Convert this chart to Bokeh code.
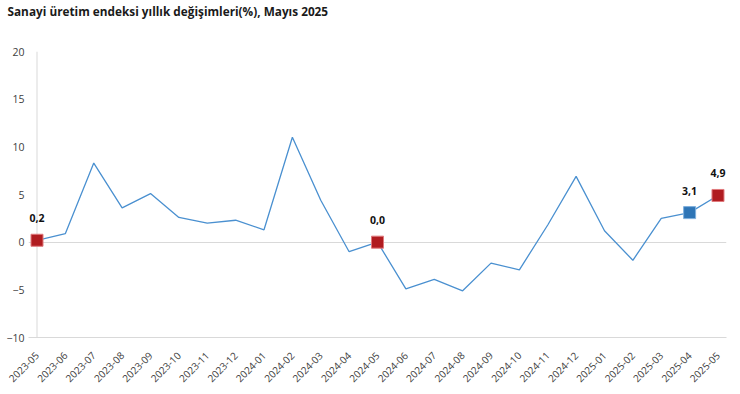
from bokeh.plotting import figure
from bokeh.models import Range1d, FixedTicker, Span, ColumnDataSource, Title
from bokeh.core.properties import value
from bokeh.embed import file_html
from bokeh.resources import INLINE

months = ["2023-05", "2023-06", "2023-07", "2023-08", "2023-09", "2023-10", "2023-11",
          "2023-12", "2024-01", "2024-02", "2024-03", "2024-04", "2024-05", "2024-06",
          "2024-07", "2024-08", "2024-09", "2024-10", "2024-11", "2024-12", "2025-01",
          "2025-02", "2025-03", "2025-04", "2025-05"]
values = [0.2, 0.9, 8.3, 3.6, 5.1, 2.6, 2.0, 2.3, 1.3, 11.0, 4.4, -1.0, 0.0, -4.9,
          -3.9, -5.1, -2.2, -2.9, 1.8, 6.9, 1.2, -1.9, 2.5, 3.1, 4.9]
highlight_months = ["2023-05", "2024-05", "2025-04", "2025-05"]
highlight_colors = ["#B01C20", "#B01C20", "#2E75B6", "#B01C20"]
highlight_borders = ["#E07A7D", "#E07A7D", "#7FB0DD", "#E07A7D"]
y_ticks = [-10, -5, 0, 5, 10, 15, 20]
title_text = "Sanayi üretim endeksi yıllık değişimleri(%), Mayıs 2025"

FONT = "Open Sans"

xs = list(range(len(months)))
line_src = ColumnDataSource(dict(x=xs, y=values))
hx = [months.index(m) for m in highlight_months]
hy = [values[i] for i in hx]
hl = [f"{v:.1f}".replace(".", ",") for v in hy]
hi_src = ColumnDataSource(dict(x=hx, y=hy, color=highlight_colors,
                               border=highlight_borders, label=hl))

p = figure(width=740, height=394, output_backend="svg", toolbar_location=None,
           x_range=Range1d(-0.3, len(months) - 1 + 0.3),
           y_range=Range1d(y_ticks[0], y_ticks[-1]),
           min_border_left=28, min_border_right=14, min_border_bottom=57,
           min_border_top=51)

# spacer panel next to the frame, then the title at the top of the canvas
p.add_layout(Title(text=" ", text_font=FONT, text_font_size="11.8px", standoff=15),
             "above")
p.add_layout(Title(text=title_text, text_font=FONT, text_font_size="11.8px",
                   text_font_style="bold", text_color="#1a1a1a", offset=-21,
                   standoff=0), "above")

p.outline_line_color = None
p.background_fill_color = "white"
p.border_fill_color = "white"

p.xgrid.visible = False
p.ygrid.ticker = FixedTicker(ticks=[0])
p.ygrid.grid_line_color = "#d9d9d9"
p.ygrid.grid_line_width = 1

p.add_layout(Span(location=0, dimension="height", line_color="#d9d9d9", line_width=1,
                  level="underlay"))

p.yaxis.ticker = FixedTicker(ticks=y_ticks)
p.yaxis.axis_line_color = None
p.yaxis.major_tick_line_color = None
p.yaxis.minor_tick_line_color = None
p.yaxis.major_tick_out = 0
p.yaxis.major_tick_in = 0
p.yaxis.major_label_standoff = 4
p.yaxis.major_label_text_font = FONT
p.yaxis.major_label_text_font_size = "10.5px"
p.yaxis.major_label_text_color = "#404040"

p.xaxis.ticker = FixedTicker(ticks=xs)
p.xaxis.major_label_overrides = {i: m for i, m in enumerate(months)}
p.xaxis.major_label_orientation = 0.785398
p.xaxis.axis_line_color = "#d9d9d9"
p.xaxis.major_tick_line_color = None
p.xaxis.minor_tick_line_color = None
p.xaxis.major_tick_out = 0
p.xaxis.major_tick_in = 0
p.xaxis.major_label_standoff = 16
p.xaxis.major_label_text_font = FONT
p.xaxis.major_label_text_font_size = "10px"
p.xaxis.major_label_text_color = "#404040"

p.line("x", "y", source=line_src, line_color="#4A90D0", line_width=1.3)
p.scatter("x", "y", source=hi_src, marker="square", size=12, fill_color="color",
          line_color="border", line_width=1)
p.text("x", "y", text="label", source=hi_src, text_font=value(FONT),
       text_font_size="10.5px", text_font_style="bold", text_color="#111111",
       text_align="center", text_baseline="middle", y_offset=-22)

open("out.html", "w").write(file_html(p, INLINE))
